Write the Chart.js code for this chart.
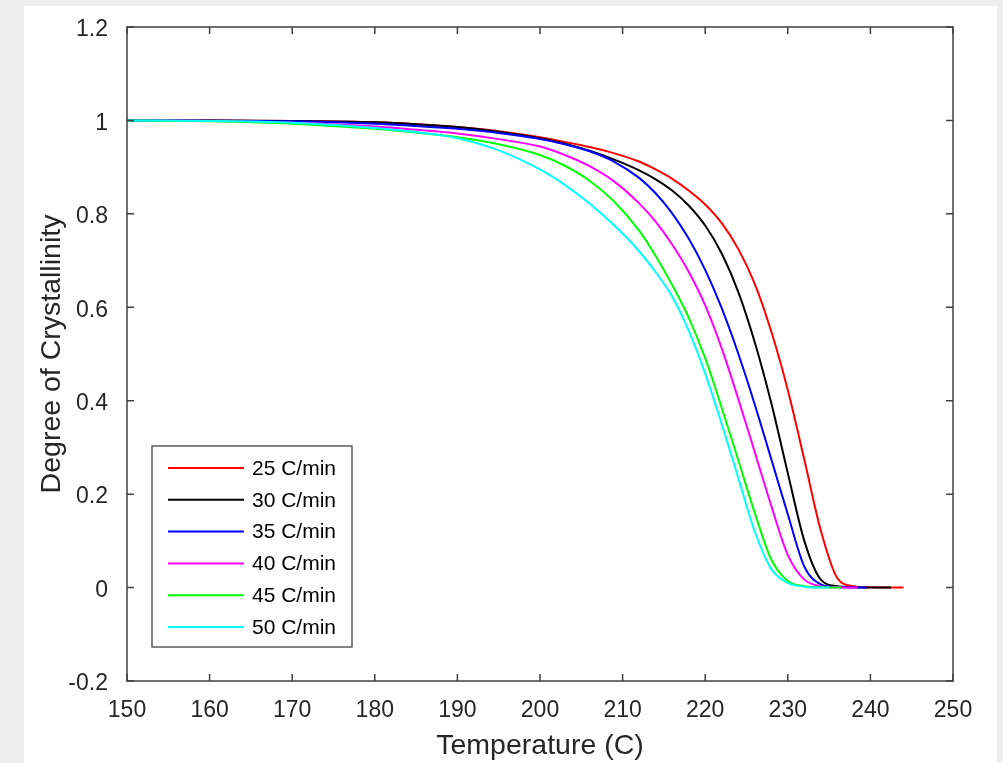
<!DOCTYPE html>
<html>
<head>
<meta charset="utf-8">
<script src="https://cdn.jsdelivr.net/npm/chart.js@4.4.0/dist/chart.umd.min.js"></script>
<style>
  html, body { margin: 0; padding: 0; background: #efefef; }
  #fig { position: absolute; left: 24px; top: 6px; width: 973px; height: 757px; background: #fff; }
  #wrap { position: absolute; left: 0; top: 0; width: 1003px; height: 763px; }
</style>
</head>
<body>
<div id="fig"></div>
<div id="wrap"><canvas id="cryst-chart"></canvas></div>
<script>
// temperature grid (C) shared by all heating rates
const temps = [150, 160, 170, 180, 185, 190, 195, 200, 203, 206, 209, 212, 214, 216, 218, 220, 222, 224, 226, 228, 230, 232, 234, 236, 238, 240];

const rateLabels = ['25 C/min', '30 C/min', '35 C/min', '40 C/min', '45 C/min', '50 C/min'];
const rateColors = ['#ff0000', '#000000', '#0000ff', '#ff00ff', '#00ff00', '#00ffff'];
// last temperature of each run (crystallinity is 0 there)
const endTemps = [244, 242.5, 239.5, 238.5, 236.5, 235];

// degree of crystallinity at each grid temperature
const rate25 = [1, 1, 0.999, 0.996, 0.992, 0.986, 0.977, 0.964, 0.954, 0.943, 0.9295, 0.912, 0.895, 0.875, 0.85, 0.82, 0.78, 0.725, 0.65, 0.548, 0.423, 0.274, 0.122, 0.02, 0.003, 0.0005];
const rate30 = [1, 1, 0.999, 0.996, 0.992, 0.986, 0.976, 0.962, 0.95, 0.935, 0.916, 0.893, 0.874, 0.85, 0.818, 0.775, 0.715, 0.633, 0.525, 0.395, 0.245, 0.1, 0.017, 0.003, 0.0008, 0];
const rate35 = [1, 0.9995, 0.998, 0.993, 0.988, 0.982, 0.973, 0.96, 0.949, 0.934, 0.9115, 0.877, 0.844, 0.801, 0.747, 0.68, 0.598, 0.501, 0.392, 0.275, 0.157, 0.045, 0.007, 0.001, 0.0002, 0];
const rate40 = [1, 0.999, 0.995, 0.987, 0.98, 0.972, 0.96, 0.944, 0.926, 0.902, 0.869, 0.8224, 0.7834, 0.7344, 0.676, 0.604, 0.512, 0.404, 0.29, 0.175, 0.07, 0.017, 0.003, 0.0005, 0, 0];
const rate45 = [1, 0.998, 0.993, 0.982, 0.974, 0.964, 0.949, 0.926, 0.903, 0.871, 0.826, 0.764, 0.71, 0.648, 0.578, 0.491, 0.385, 0.273, 0.16, 0.06, 0.014, 0.003, 0.0005, 0, 0, 0];
const rate50 = [1, 0.999, 0.995, 0.984, 0.975, 0.962, 0.936, 0.895, 0.862, 0.822, 0.775, 0.72, 0.675, 0.623, 0.55, 0.458, 0.35, 0.235, 0.12, 0.04, 0.01, 0.002, 0, 0, 0, 0];

const rateValues = [rate25, rate30, rate35, rate40, rate45, rate50];

const FONT = "'Liberation Sans', Arial, Helvetica, sans-serif";
const TXT = '#262626';

function buildPoints(vals, endT) {
    const pts = [];
    temps.forEach((t, i) => {
        if (t < endT) pts.push({ x: t, y: vals[i] });
    });
    pts.push({ x: endT, y: 0 });
    return pts;
}

// box around the axes with inward ticks on all four sides
const boxAxes = {
    id: 'boxAxes',
    afterDatasetsDraw(chart) {
        const { ctx, chartArea: a, scales: { x, y } } = chart;
        const len = 7;
        ctx.save();
        ctx.strokeStyle = '#404040';
        ctx.lineWidth = 1.5;
        ctx.beginPath();
        x.ticks.forEach(t => {
            const px = x.getPixelForValue(t.value);
            ctx.moveTo(px, a.bottom); ctx.lineTo(px, a.bottom - len);
            ctx.moveTo(px, a.top); ctx.lineTo(px, a.top + len);
        });
        y.ticks.forEach(t => {
            const py = y.getPixelForValue(t.value);
            ctx.moveTo(a.left, py); ctx.lineTo(a.left + len, py);
            ctx.moveTo(a.right, py); ctx.lineTo(a.right - len, py);
        });
        ctx.stroke();
        ctx.strokeRect(a.left, a.top, a.right - a.left, a.bottom - a.top);
        ctx.restore();
    }
};

// legend box in the lower left corner of the axes
const boxLegend = {
    id: 'boxLegend',
    afterDraw(chart) {
        const { ctx, chartArea: a } = chart;
        const left = a.left + 25, top = 446, w = 200, h = 201;
        ctx.save();
        ctx.fillStyle = '#fff';
        ctx.fillRect(left, top, w, h);
        ctx.strokeStyle = '#333';
        ctx.lineWidth = 1.2;
        ctx.strokeRect(left, top, w, h);
        ctx.font = '21px ' + FONT;
        ctx.textBaseline = 'middle';
        chart.data.datasets.forEach((ds, i) => {
            const yy = top + 22 + i * 31.8;
            ctx.strokeStyle = ds.borderColor;
            ctx.lineWidth = 2;
            ctx.beginPath();
            ctx.moveTo(left + 16, yy);
            ctx.lineTo(left + 92, yy);
            ctx.stroke();
            ctx.fillStyle = '#000';
            ctx.fillText(ds.label, left + 100, yy + 1);
        });
        ctx.restore();
    }
};

const ctx = document.getElementById('cryst-chart');

const chart = new Chart(ctx, {
    type: 'line',
    data: {
        datasets: rateLabels.map((lbl, i) => ({
            label: lbl,
            data: buildPoints(rateValues[i], endTemps[i]),
            borderColor: rateColors[i],
            borderWidth: 2,
            pointRadius: 0,
            fill: false,
            cubicInterpolationMode: 'monotone',
            order: rateLabels.length - i // later runs drawn on top
        }))
    },
    options: {
        responsive: true,
        maintainAspectRatio: false,
        animation: false,
        layout: { padding: { top: 27, right: 50, left: 0, bottom: 0 } },
        plugins: {
            legend: { display: false },
            tooltip: { enabled: false }
        },
        scales: {
            x: {
                type: 'linear',
                min: 150,
                max: 250,
                grid: { display: false },
                border: { display: false },
                ticks: {
                    stepSize: 10,
                    maxRotation: 0,
                    autoSkip: false,
                    padding: 8,
                    color: TXT,
                    font: { family: FONT, size: 23 }
                },
                title: {
                    display: true,
                    text: 'Temperature (C)',
                    color: TXT,
                    font: { family: FONT, size: 28.5 },
                    padding: { top: 0, bottom: 0 }
                },
                afterFit(s) { s.height = 82; }
            },
            y: {
                type: 'linear',
                min: -0.2,
                max: 1.2,
                grid: { display: false },
                border: { display: false },
                ticks: {
                    stepSize: 0.2,
                    padding: 11,
                    labelOffset: 3,
                    color: TXT,
                    font: { family: FONT, size: 23 },
                    callback: v => String(Math.round(v * 10) / 10)
                },
                title: {
                    display: true,
                    text: 'Degree of Crystallinity',
                    color: TXT,
                    font: { family: FONT, size: 28.5 },
                    padding: { top: 35, bottom: 0 }
                },
                afterFit(s) { s.width = 127; }
            }
        }
    },
    plugins: [boxAxes, boxLegend]
});
</script>
</body>
</html>
